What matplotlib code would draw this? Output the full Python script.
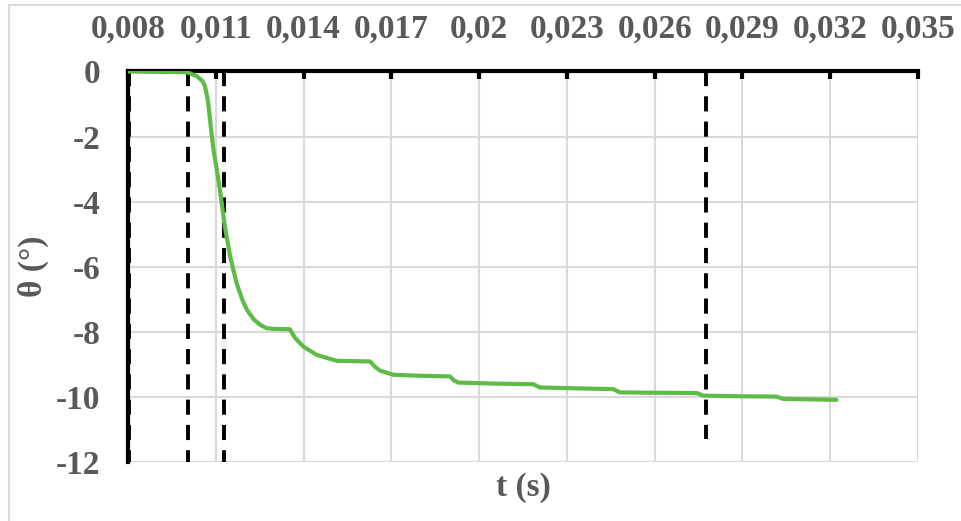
import matplotlib
matplotlib.use("Agg")
import matplotlib.pyplot as plt
from matplotlib.patches import Rectangle

# curve
t = [0.0080, 0.0100, 0.01035, 0.01055, 0.01063, 0.01070, 0.01074, 0.01083,
     0.01092, 0.01103, 0.01114, 0.01131, 0.01149, 0.01171, 0.01190, 0.01206,
     0.01230, 0.01251, 0.01274, 0.01300, 0.01353, 0.01371, 0.01399, 0.01445,
     0.01513, 0.01627, 0.01645, 0.01661, 0.01707, 0.0180, 0.0190, 0.01915,
     0.01929, 0.0205, 0.02185, 0.02208, 0.0235, 0.02458, 0.02481, 0.02584,
     0.02743, 0.02766, 0.02900, 0.03016, 0.03039, 0.03221]
theta = [0.0, -0.02, -0.14, -0.3, -0.45, -0.75, -0.96, -1.7,
         -2.4, -3.0, -3.63, -4.76, -5.68, -6.5, -7.0, -7.32,
         -7.62, -7.78, -7.89, -7.91, -7.92, -8.19, -8.45, -8.71,
         -8.89, -8.91, -9.08, -9.19, -9.32, -9.35, -9.37, -9.5,
         -9.56, -9.59, -9.61, -9.71, -9.74, -9.76, -9.86, -9.87,
         -9.88, -9.96, -9.98, -9.99, -10.06, -10.09]

# dashed markers
mark_t = [0.00803, 0.01004, 0.01127, 0.02775]
mark_bottom = [-12, -12, -12, -11.3]

x_ticks = [0.008, 0.011, 0.014, 0.017, 0.02, 0.023, 0.026, 0.029, 0.032, 0.035]
x_labels = ["0,008", "0,011", "0,014", "0,017", "0,02", "0,023", "0,026",
            "0,029", "0,032", "0,035"]
y_ticks = [0, -2, -4, -6, -8, -10, -12]
y_labels = ["0", "-2", "-4", "-6", "-8", "-10", "-12"]

plt.rcParams['font.family'] = ['Liberation Serif', 'DejaVu Serif']
plt.rcParams['font.weight'] = 'bold'
plt.rcParams['axes.labelweight'] = 'bold'

txt = '#595959'
grid = '#d9d9d9'
fs = 24

fig = plt.figure(figsize=(9.62, 5.21), dpi=100)
ax = fig.add_axes([128/962, 1 - 462/521, (918 - 128)/962, (462 - 71.5)/521])

ax.set_xlim(0.008, 0.035)
ax.set_ylim(-12, 0)
ax.set_xticks(x_ticks)
ax.set_xticklabels(x_labels)
ax.set_yticks(y_ticks)
ax.set_yticklabels(y_labels)

ax.grid(True, color=grid, lw=1.5)
ax.set_axisbelow(True)

for s in ['right', 'bottom']:
    ax.spines[s].set_visible(False)
ax.spines['top'].set_linewidth(3)
ax.spines['left'].set_linewidth(3)

ax.xaxis.tick_top()
ax.tick_params(axis='x', direction='in', length=6, width=3, color='black',
               labelsize=fs, labelcolor=txt, pad=19)
ax.tick_params(axis='y', length=0, labelsize=fs, labelcolor=txt, pad=20)

for xv, yb in zip(mark_t, mark_bottom):
    ax.plot([xv, xv], [0, yb], color='black', lw=2.8,
            linestyle=(0, (3.9, 2.6)), zorder=3)

ax.plot(t, theta, color='#5dbb46', lw=3, zorder=4, solid_capstyle='round')

ax.xaxis.set_label_position('bottom')
ax.set_xlabel('t (s)', fontsize=fs, color=txt, labelpad=7)
ax.set_ylabel('θ (°)', fontsize=fs, color=txt, labelpad=5)

fig.add_artist(Rectangle((9/962, -0.1), 1.2, 1.1 - 5/521, transform=fig.transFigure,
                         fill=False, edgecolor=grid, lw=1.5))

fig.savefig('out.png', dpi=100)
